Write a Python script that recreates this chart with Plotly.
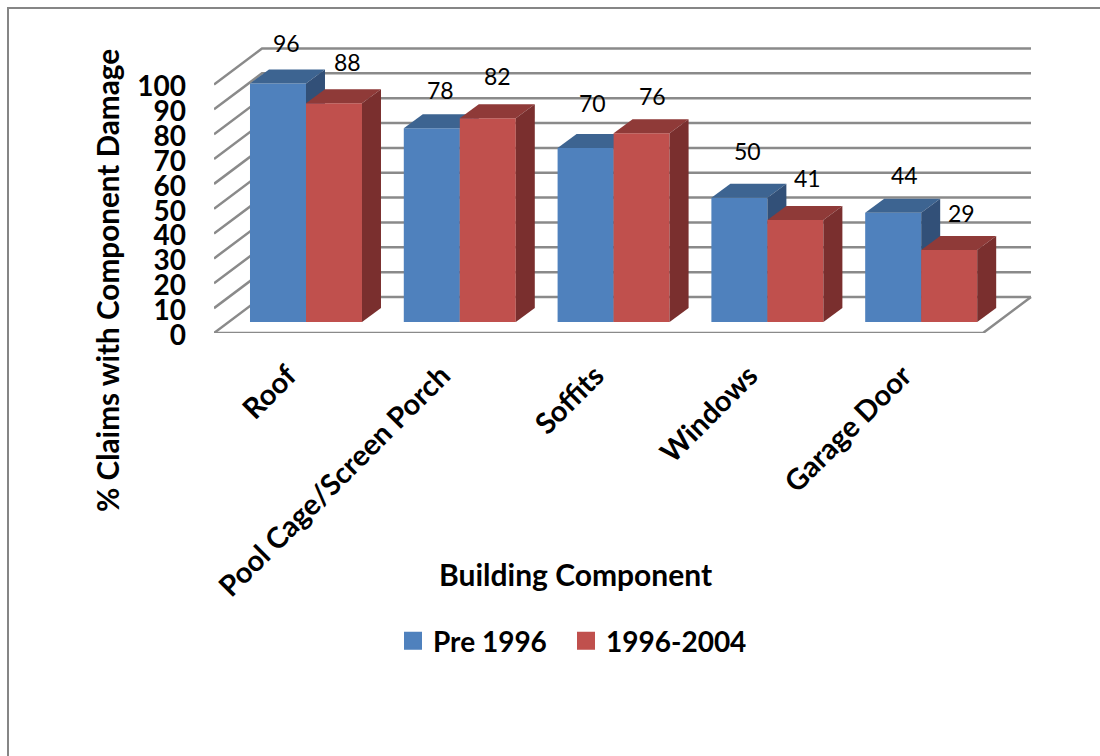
import plotly.graph_objects as go

# Chart data
COMPONENTS = ["Roof", "Pool Cage/Screen Porch", "Soffits", "Windows", "Garage Door"]
PRE_1996 = [96, 78, 70, 50, 44]
Y1996_2004 = [88, 82, 76, 41, 29]
Y_TICKS = [0, 10, 20, 30, 40, 50, 60, 70, 80, 90, 100]

# Label nudges in pixels, one (dx, dy) for each bar
PRE_NUDGE = [(9, 40), (9, 38), (7, 45), (8, 47), (11, 38)]
LATER_NUDGE = [(14, 41), (10, 42), (11, 37), (12, 42), (12, 37)]

# Oblique projection used for the 3D look, all in axis units
W, H = 1100, 756
PX_X = 153.8
PX_Y = 2.485
WALL_DX = 48 / PX_X
WALL_DY = 36 / PX_Y
BAR_DX = 19 / PX_X
BAR_DY = 14 / PX_Y
BAR_BASE = 11 / PX_Y
BAR_W = 56 / PX_X
BLUE_OFF = -0.266
RED_OFF = BLUE_OFF + BAR_W

X_LEFT, X_RIGHT = 214, 1035
Y_BOTTOM, Y_TOP = 333, 20
x_range = [-0.5, -0.5 + (X_RIGHT - X_LEFT) / PX_X]
y_range = [0, (Y_BOTTOM - Y_TOP) / PX_Y]

FONT = "Lato"
GRID = "#8a8a8a"
BLUE, BLUE_TOP, BLUE_SIDE = "#4F81BD", "#3D6491", "#325078"
RED, RED_TOP, RED_SIDE = "#C0504D", "#8F3A38", "#7A2F2E"

fig = go.Figure()

# Walls and floor
gx, gy = [], []
n = len(COMPONENTS)
for t in Y_TICKS:
    gx += [-0.5, -0.5 + WALL_DX, n - 0.5 + WALL_DX, None]
    gy += [t, t + WALL_DY, t + WALL_DY, None]
gx += [-0.5, n - 0.5, n - 0.5 + WALL_DX]
gy += [0, 0, WALL_DY]
fig.add_trace(go.Scatter(x=gx, y=gy, mode="lines", line=dict(color=GRID, width=2.5),
                         showlegend=False, hoverinfo="skip", cliponaxis=False))


def add_series(values, offset, front, top, side, xa, ya):
    xs = [i + offset for i in range(len(values))]
    fig.add_trace(go.Bar(x=[x + BAR_W / 2 for x in xs], y=values, base=BAR_BASE, width=BAR_W,
                         marker=dict(color=front, line=dict(width=0)),
                         showlegend=False, xaxis=xa, yaxis=ya))
    for x, v in zip(xs, values):
        t = v + BAR_BASE
        fig.add_trace(go.Scatter(
            x=[x, x + BAR_W, x + BAR_W + BAR_DX, x + BAR_DX, x],
            y=[t, t, t + BAR_DY, t + BAR_DY, t],
            fill="toself", fillcolor=top, mode="none",
            showlegend=False, hoverinfo="skip", xaxis=xa, yaxis=ya))
        r = x + BAR_W
        fig.add_trace(go.Scatter(
            x=[r, r + BAR_DX, r + BAR_DX, r, r],
            y=[BAR_BASE, BAR_BASE + BAR_DY, t + BAR_DY, t, BAR_BASE],
            fill="toself", fillcolor=side, mode="none",
            showlegend=False, hoverinfo="skip", xaxis=xa, yaxis=ya))


# Each series sits on its own overlaid axes so later marks paint over earlier ones
add_series(PRE_1996, BLUE_OFF, BLUE, BLUE_TOP, BLUE_SIDE, "x2", "y2")
add_series(Y1996_2004, RED_OFF, RED, RED_TOP, RED_SIDE, "x3", "y3")

# Legend entries, one legend box per series so each can be placed on its own
for name, color, legend_id in (("Pre 1996", BLUE, "legend"), ("1996-2004", RED, "legend2")):
    fig.add_trace(go.Scatter(x=[None], y=[None], mode="markers", name=name, legend=legend_id, showlegend=True,
                             marker=dict(symbol="square", size=16, color=color,
                                         line=dict(color=color, width=2))))

annotations = []
for values, offset, nudges in ((PRE_1996, BLUE_OFF, PRE_NUDGE), (Y1996_2004, RED_OFF, LATER_NUDGE)):
    for i, (v, (dx, dy)) in enumerate(zip(values, nudges)):
        annotations.append(dict(x=i + offset + BAR_W / 2, y=v + BAR_BASE, xref="x", yref="y",
                                text=str(v), showarrow=False, xshift=dx, yshift=dy,
                                font=dict(family=FONT, size=23, color="black")))

annotations.append(dict(x=108 / W, y=1 - 281 / H, xref="paper", yref="paper", xanchor="center", yanchor="middle",
                        text="<b>% Claims with Component Damage</b>",
                        textangle=-90, showarrow=False, font=dict(family=FONT, size=29.7, color="black")))
annotations.append(dict(x=575 / W, y=1 - 574 / H, xref="paper", yref="paper", xanchor="center", yanchor="middle",
                        text="<b>Building Component</b>",
                        showarrow=False, font=dict(family=FONT, size=30, color="black")))

legend_style = dict(orientation="h", xanchor="left", yanchor="middle", y=1 - 641 / H,
                    font=dict(family=FONT, size=28, weight="bold", color="black"),
                    itemclick=False, itemdoubleclick=False, bgcolor="rgba(0,0,0,0)")

dom_x = [X_LEFT / W, X_RIGHT / W]
dom_y = [1 - Y_BOTTOM / H, 1 - Y_TOP / H]
fig.update_layout(
    width=W, height=H, margin=dict(l=0, r=0, t=0, b=0),
    paper_bgcolor="white", plot_bgcolor="white",
    font=dict(family=FONT, color="black"),
    annotations=annotations,
    xaxis=dict(domain=dom_x, range=x_range, tickmode="array", tickvals=list(range(n)), ticktext=COMPONENTS,
               tickangle=-45, showgrid=False, zeroline=False, showline=False, ticks="", ticklabelstandoff=19,
               ticklabelshift=-3, automargin=False,
               tickfont=dict(family=FONT, size=29, weight="bold", color="black")),
    yaxis=dict(domain=dom_y, range=y_range, tickmode="array", tickvals=Y_TICKS, showgrid=False, zeroline=False,
               showline=False, ticks="", ticklabelstandoff=27, ticklabelshift=2,
               automargin=False, tickfont=dict(family=FONT, size=28, weight="bold", color="black")),
    xaxis2=dict(domain=dom_x, range=x_range, overlaying="x", visible=False),
    yaxis2=dict(domain=dom_y, range=y_range, overlaying="y", visible=False),
    xaxis3=dict(domain=dom_x, range=x_range, overlaying="x", visible=False),
    yaxis3=dict(domain=dom_y, range=y_range, overlaying="y", visible=False),
    legend=dict(x=393 / W, **legend_style),
    legend2=dict(x=566 / W, **legend_style),
    shapes=[dict(type="path", xref="paper", yref="paper", path=f"M {8/W},0 L {8/W},{1-8/H} L 1,{1-8/H}",
                 line=dict(color="#868686", width=2))],
)

fig.write_html("out.html")
